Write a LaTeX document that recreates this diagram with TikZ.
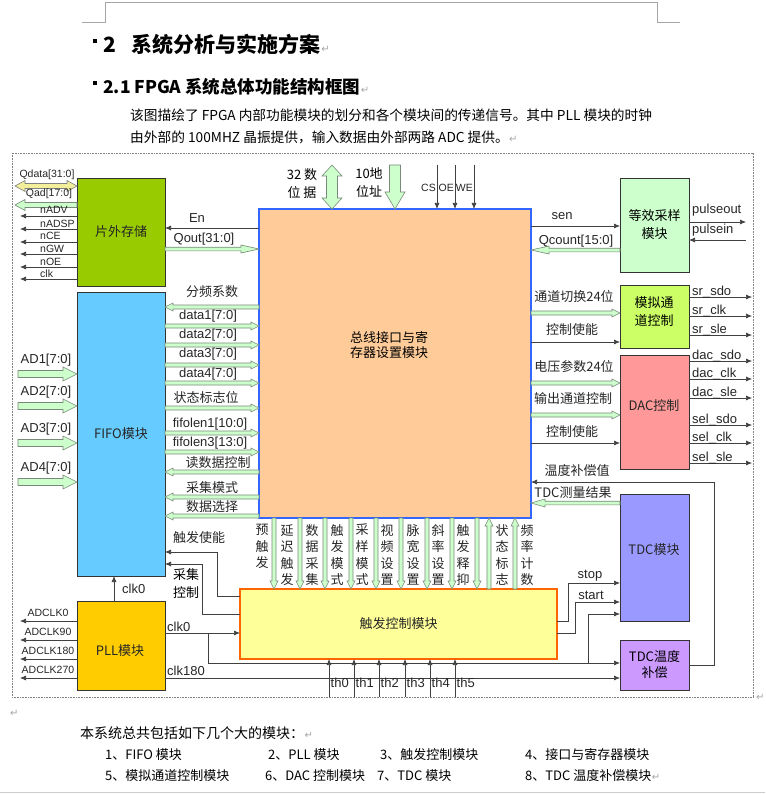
\documentclass[tikz,border=0pt]{standalone}
\usepackage{fontspec}
\setmainfont{Liberation Sans}
\newfontfamily\cjk{Noto Sans CJK SC}
\newfontfamily\symf{DejaVu Sans}
\usetikzlibrary{calc,arrows.meta}
\definecolor{memg}{HTML}{99CC00}
\definecolor{fifob}{HTML}{66CCFF}
\definecolor{busf}{HTML}{FFCC99}
\definecolor{busb}{HTML}{3366FF}
\definecolor{eqg}{HTML}{CCFFCC}
\definecolor{simg}{HTML}{CCFF66}
\definecolor{dacp}{HTML}{FF9999}
\definecolor{tdcb}{HTML}{9999FF}
\definecolor{tdcp}{HTML}{CC99FF}
\definecolor{trigy}{HTML}{FFFF99}
\definecolor{trigo}{HTML}{FF6600}
\definecolor{pllg}{HTML}{FFCC00}
\definecolor{hfill}{HTML}{CCFFCC}
\definecolor{hedge}{HTML}{7A8A7A}
\definecolor{qfill}{HTML}{F2EE9A}
\definecolor{wire}{HTML}{404040}
% hollow single arrow: style, from, to, half shaft, half head, head length
\newcommand\harrow[6]{%
  \draw[#1] let \p1=(#2), \p2=(#3), \n1={atan2(\y2-\y1,\x2-\x1)}, \n2={veclen(\x2-\x1,\y2-\y1)-#6pt} in
    ($(\p1)+({\n1+90}:#4pt)$) -- ($(\p1)+({\n1}:{\n2*1pt})+({\n1+90}:#4pt)$) -- ($(\p1)+({\n1}:{\n2*1pt})+({\n1+90}:#5pt)$) -- (\p2)
    -- ($(\p1)+({\n1}:{\n2*1pt})+({\n1-90}:#5pt)$) -- ($(\p1)+({\n1}:{\n2*1pt})+({\n1-90}:#4pt)$) -- ($(\p1)+({\n1-90}:#4pt)$) -- cycle;}
% hollow double arrow
\newcommand\dharrow[6]{%
  \draw[#1] let \p1=(#2), \p2=(#3), \n1={atan2(\y2-\y1,\x2-\x1)}, \n2={veclen(\x2-\x1,\y2-\y1)-#6pt} in
    (\p1) -- ($(\p1)+({\n1}:#6pt)+({\n1+90}:#5pt)$) -- ($(\p1)+({\n1}:#6pt)+({\n1+90}:#4pt)$)
    -- ($(\p1)+({\n1}:{\n2*1pt})+({\n1+90}:#4pt)$) -- ($(\p1)+({\n1}:{\n2*1pt})+({\n1+90}:#5pt)$) -- (\p2)
    -- ($(\p1)+({\n1}:{\n2*1pt})+({\n1-90}:#5pt)$) -- ($(\p1)+({\n1}:{\n2*1pt})+({\n1-90}:#4pt)$)
    -- ($(\p1)+({\n1}:#6pt)+({\n1-90}:#4pt)$) -- ($(\p1)+({\n1}:#6pt)+({\n1-90}:#5pt)$) -- cycle;}
\begin{document}
\begin{tikzpicture}[x=1pt,y=-1pt,
  blk/.style={draw=black!80, line width=0.7pt, anchor=north west, inner sep=0pt, outer sep=0pt},
  lt/.style={font=\fontsize{13}{15}\selectfont, inner sep=0pt, text=black!85},
  ls/.style={font=\fontsize{10.5}{12}\selectfont, inner sep=0pt, text=black!85},
  ct/.style={font=\cjk\fontsize{13}{15}\selectfont, inner sep=0pt, text=black!85},
  vt/.style={font=\cjk\fontsize{13}{16.6}\selectfont, inner sep=0pt, align=center, anchor=north, text=black!85},
  wirea/.style={draw=wire, line width=0.7pt, -{Latex[length=6pt,width=5pt]}},
  wiren/.style={draw=wire, line width=0.7pt},
  hol/.style={draw=hedge, fill=hfill, line width=0.6pt, line join=miter},
  pmark/.style={font=\symf\fontsize{10}{10}\selectfont, text=gray!70, inner sep=0pt, anchor=base west},
]
\useasboundingbox (0,0) rectangle (765,794);
\fill[white] (0,0) rectangle (765,794);
% ---------- page header ----------
\draw[gray!70, line width=0.6pt] (82,22) -- (105,22) -- (105,2) -- (657,2) -- (657,22) -- (680,22);
\fill (93,39) rectangle (97,43);
\node[anchor=base west, inner sep=0pt, font=\cjk\bfseries\fontsize{21}{23}\selectfont] (h1) at (103,53) {2\hspace{16pt}系统分析与实施方案};
\node[pmark] (h1m) at (h1.base east) {↵};
\fill (93,81) rectangle (97,85);
\node[anchor=base west, inner sep=0pt, font=\cjk\bfseries\fontsize{17.5}{19}\selectfont] (h2) at (103,94) {2.1 FPGA 系统总体功能结构框图};
\node[pmark] (h2m) at (h2.base east) {↵};
\node[anchor=base west, inner sep=0pt, font=\cjk\fontsize{13.7}{15}\selectfont] (p1) at (130,121) {该图描绘了 FPGA 内部功能模块的划分和各个模块间的传递信号。其中 PLL 模块的时钟};
\node[anchor=base west, inner sep=0pt, font=\cjk\fontsize{13.7}{15}\selectfont] (p2) at (130,143) {由外部的 100MHZ 晶振提供，输入数据由外部两路 ADC 提供。};
\node[pmark] (p2m) at (p2.base east) {↵};
% ---------- frame ----------
\draw[gray, line width=0.6pt, dash pattern=on 0.8pt off 0.8pt] (12,153) rectangle (753,697);
% ---------- blocks ----------
\node[blk, fill=memg, minimum width=88pt, minimum height=108pt, ct] (mem) at (77,178) {片外存储};
\node[blk, fill=fifob, minimum width=88pt, minimum height=284pt, ct] (fifo) at (77,292) {FIFO模块};
\node[blk, fill=pllg, minimum width=88pt, minimum height=89pt] (pll) at (77,601) {};
\node[ct] (plll) at (120,651) {PLL模块};
\node[blk, fill=busf, draw=busb, line width=2.5pt, minimum width=272pt, minimum height=309pt] (bus) at (259,209) {};
\node[font=\cjk\fontsize{13}{15.5}\selectfont, align=center, inner sep=0pt] (busl) at (389,345) {总线接口与寄\\存器设置模块};
\node[blk, fill=eqg, minimum width=69pt, minimum height=94pt, font=\cjk\fontsize{13}{18}\selectfont, align=center] (eq) at (620,178) {等效采样\\模块};
\node[blk, fill=simg, minimum width=69pt, minimum height=63pt] (sim) at (620,285) {};
\node[font=\cjk\fontsize{13}{18}\selectfont, align=center, inner sep=0pt] (siml) at (654,312) {模拟通\\道控制};
\node[blk, fill=dacp, minimum width=69pt, minimum height=114pt] (dac) at (620,355) {};
\node[ct] (dacl) at (654,406) {DAC控制};
\node[blk, fill=tdcb, minimum width=69pt, minimum height=127pt] (tdc) at (620,494) {};
\node[ct] (tdcl) at (654,550) {TDC模块};
\node[blk, fill=tdcp, minimum width=69pt, minimum height=50pt, font=\cjk\fontsize{13}{16}\selectfont, align=center] (tdct) at (620,640) {TDC温度\\补偿};
\node[blk, fill=trigy, draw=trigo, line width=2pt, minimum width=317pt, minimum height=70pt, ct] (trig) at (240,589) {触发控制模块};
% ---------- memory connections ----------
\coordinate (qdL) at (15,186);
\coordinate (qaL) at (15,205);
\dharrow{hol, fill=qfill, draw=gray}{mem.west |- 0,186}{qdL}{2.5}{5.5}{10}
\harrow{hol}{mem.west |- 0,205}{qaL}{2.5}{5.5}{10}
\node[ls] (lqd) at (47,175) {Qdata[31:0]};
\node[ls] (lqa) at (49,194) {Qad[17:0]};
\foreach \yy/\t in {216/nADV,229/nADSP,242/nCE,254/nGW,267/nOE,279/clk}{
  \coordinate (m\t) at (20,\yy);
  \draw[wirea] (mem.west |- m\t) -- (m\t);
  \node[ls, anchor=base west] (l\t) at (40,{\yy-2}) {\t};
}
\draw[wirea] (bus.west |- 0,228) -- (mem.east |- 0,228);
\node[lt] (len) at (197,218) {En};
\harrow{hol}{mem.east |- 0,249}{bus.west |- 0,249}{1.8}{4}{18}
\node[lt] (lqo) at (204,239) {Qout[31:0]};
% ---------- top ----------
\coordinate (d32) at (332,165);
\coordinate (a10) at (395,165);
\dharrow{hol}{d32}{bus.north -| d32}{5.5}{10}{11}
\harrow{hol}{a10}{bus.north -| a10}{5.5}{10}{17}
\node[font=\cjk\fontsize{13}{18}\selectfont, align=center, inner sep=0pt] (l32) at (302,184) {32 数\\位 据};
\node[font=\cjk\fontsize{13}{18}\selectfont, align=center, inner sep=0pt] (l10) at (369,183) {10地\\位址};
\foreach \xx/\t in {437/CS,455/OE,474/WE}{
  \coordinate (c\t) at (\xx,165);
  \draw[wirea] (c\t) -- (bus.north -| c\t);
  \node[ls, anchor=east] (l\t) at ({\xx-1},188) {\t};
}
% ---------- equivalent sampling ----------
\draw[wirea] (bus.east |- 0,226) -- (eq.west |- 0,226);
\node[lt] (lsen) at (562,216) {sen};
\harrow{hol}{eq.west |- 0,250}{bus.east |- 0,250}{1.8}{4}{18}
\node[lt] (lqc) at (576,241) {Qcount[15:0]};
\coordinate (po) at (746,222);
\coordinate (pi) at (746,240);
\draw[wirea] (eq.east |- po) -- (po);
\draw[wirea] (pi) -- (eq.east |- pi);
\node[lt, anchor=west] (lpo) at (692,210) {pulseout};
\node[lt, anchor=west] (lpi) at (692,230) {pulsein};
% ---------- FIFO <-> bus ----------
\foreach \yy in {307,472,497,516}{ \coordinate (fl) at (0,\yy); \harrow{hol}{bus.west |- fl}{fifo.east |- fl}{2}{4}{8} }
\foreach \yy in {326,345,365,383,408,433,452}{ \coordinate (fr) at (0,\yy); \harrow{hol}{fifo.east |- fr}{bus.west |- fr}{2}{4}{8} }
\node[ct] (lfp) at (212,292) {分频系数};
\node[lt] (ld1) at (208,316) {data1[7:0]};
\node[lt] (ld2) at (208,335) {data2[7:0]};
\node[lt] (ld3) at (208,354) {data3[7:0]};
\node[lt] (ld4) at (208,374) {data4[7:0]};
\node[ct] (lzt) at (206,398) {状态标志位};
\node[lt] (lf1) at (210,424) {fifolen1[10:0]};
\node[lt] (lf3) at (210,443) {fifolen3[13:0]};
\node[ct] (ldk) at (218,463) {读数据控制};
\node[ct] (lcj) at (212,488) {采集模式};
\node[ct] (lsj) at (212,507) {数据选择};
% ---------- AD inputs ----------
\foreach \i/\yy in {1/374,2/406,3/443,4/482}{
  \coordinate (ad\i) at (18,\yy);
  \harrow{hol}{ad\i}{fifo.west |- ad\i}{3.5}{7}{14}
  \node[lt] (lad\i) at (46,{\yy-14}) {AD\i[7:0]};
}
% ---------- analog channel / DAC ----------
\harrow{hol}{bus.east |- 0,313}{sim.west |- 0,313}{2}{4}{8}
\node[ct] (ltd) at (574,297) {通道切换24位};
\draw[wirea] (bus.east |- 0,342) -- (sim.west |- 0,342);
\node[ct] (lkz1) at (572,330) {控制使能};
\harrow{hol}{bus.east |- 0,383}{dac.west |- 0,383}{2}{4}{8}
\node[ct] (ldy) at (574,367) {电压参数24位};
\harrow{hol}{bus.east |- 0,415}{dac.west |- 0,415}{2}{4}{8}
\node[ct] (lsc) at (573,399) {输出通道控制};
\draw[wirea] (bus.east |- 0,443) -- (dac.west |- 0,443);
\node[ct] (lkz2) at (572,432) {控制使能};
\foreach \yy/\t/\n in {297/sr\_sdo/s1,316/sr\_clk/s2,335/sr\_sle/s3}{
  \coordinate (o\n) at (752,\yy);
  \draw[wirea] (sim.east |- o\n) -- (o\n);
  \node[lt, anchor=base west] (l\n) at (692,{\yy-1.5}) {\t};
}
\foreach \yy/\t/\n in {361/dac\_sdo/d1,379/dac\_clk/d2,398/dac\_sle/d3,425/sel\_sdo/d4,443/sel\_clk/d5,463/sel\_sle/d6}{
  \coordinate (o\n) at (752,\yy);
  \draw[wirea] (dac.east |- o\n) -- (o\n);
  \node[lt, anchor=base west] (l\n) at (692,{\yy-1.5}) {\t};
}
% ---------- TDC ----------
\draw[wirea] (tdct.east) -- (tdct.east -| 714,0) -- (714,482) -- (bus.east |- 0,482);
\node[ct] (lwd) at (577,471) {温度补偿值};
\harrow{hol}{tdc.west |- 0,503}{bus.east |- 0,503}{1.8}{4}{14}
\node[ct] (ltdc) at (573,493) {TDC测量结果};
\draw[wirea] (trig.east |- 0,621) -- (568,621) -- (568,583) -- (tdc.west |- 0,583);
\node[lt] (lstop) at (590,576) {stop};
\draw[wirea] (trig.east |- 0,633) -- (575,633) -- (575,602) -- (tdc.west |- 0,602);
\node[lt] (lstart) at (591,595) {start};
% ---------- bus <-> trigger ----------
\foreach \xx in {274,300,325,351,376,401,427,452,477}{ \coordinate (vx) at (\xx,0); \harrow{hol}{bus.south -| vx}{trig.north -| vx}{2}{4}{8} }
\foreach \xx in {489,515}{ \coordinate (vx) at (\xx,0); \harrow{hol}{trig.north -| vx}{bus.south -| vx}{2}{4}{8} }
\node[vt] (v1) at (262,524) {预\\触\\发};
\node[vt] (v2) at (287,524) {延\\迟\\触\\发};
\node[vt] (v3) at (312,524) {数\\据\\采\\集};
\node[vt] (v4) at (337,524) {触\\发\\模\\式};
\node[vt] (v5) at (362,524) {采\\样\\模\\式};
\node[vt] (v6) at (387,524) {视\\频\\设\\置};
\node[vt] (v7) at (413,524) {脉\\宽\\设\\置};
\node[vt] (v8) at (438,524) {斜\\率\\设\\置};
\node[vt] (v9) at (463,524) {触\\发\\释\\抑};
\node[vt] (v10) at (502,524) {状\\态\\标\\志};
\node[vt] (v11) at (527,524) {频\\率\\计\\数};
% ---------- trigger -> FIFO ----------
\draw[wirea] (trig.west |- 0,596) -- (217,596) -- (217,552) -- (fifo.east |- 0,552);
\node[ct] (lcfs) at (199,538) {触发使能};
\draw[wirea] (trig.west |- 0,614) -- (202,614) -- (202,564) -- (fifo.east |- 0,564);
\node[font=\cjk\fontsize{13}{18}\selectfont, align=center, inner sep=0pt] (lcjk) at (186,584) {采集\\控制};
% ---------- PLL ----------
\draw[wirea] (pll.north -| 114,0) -- (fifo.south -| 114,0);
\node[lt, anchor=west] (lck0a) at (122,589) {clk0};
\draw[wirea] (pll.east |- 0,633) -- (trig.west |- 0,633);
\node[lt, anchor=west] (lck0b) at (167,627) {clk0};
\draw[wiren] (208,633) -- (208,663);
\draw[wirea] (208,663) -- (tdct.west |- 0,663);
\draw[wirea] (588,663) -- (588,614) -- (tdc.west |- 0,614);
\draw[wirea] (pll.east |- 0,678) -- (tdct.west |- 0,678);
\node[lt, anchor=west] (lck180) at (167,671) {clk180};
\foreach \yy/\t in {621/ADCLK0,640/ADCLK90,659/ADCLK180,678/ADCLK270}{
  \coordinate (k\t) at (20,\yy);
  \draw[wirea] (pll.west |- k\t) -- (k\t);
  \node[ls] (l\t) at (48,{\yy-8}) {\t};
}
% ---------- th inputs ----------
\foreach \i/\xx in {0/329,1/354,2/379,3/405,4/430,5/455}{
  \coordinate (th\i) at (\xx,697);
  \draw[wirea] (th\i) -- (trig.south -| th\i);
  \node[lt, anchor=west] (lth\i) at ({\xx+1.5},683) {th\i};
}
% ---------- footer ----------
\node[pmark] (fm0) at (756,700) {↵};
\node[pmark] (fm1) at (10,716) {↵};
\node[anchor=base west, inner sep=0pt, font=\cjk\fontsize{14}{15}\selectfont] (f0) at (80,738) {本系统总共包括如下几个大的模块：};
\node[pmark] (f0m) at (f0.base east) {↵};
\begin{scope}[every node/.style={anchor=base west, inner sep=0pt, font=\cjk\fontsize{13}{15}\selectfont}]
\node (f1) at (105,759) {1、FIFO 模块};
\node (f2) at (268,759) {2、PLL 模块};
\node (f3) at (380,759) {3、触发控制模块};
\node (f4) at (525,759) {4、接口与寄存器模块};
\node (f5) at (105,780) {5、模拟通道控制模块};
\node (f6) at (265,780) {6、DAC 控制模块};
\node (f7) at (377,780) {7、TDC 模块};
\node (f8) at (525,780) {8、TDC 温度补偿模块};
\end{scope}
\node[pmark] (f8m) at (f8.base east) {↵};
\draw[gray!40, line width=0.8pt] (0,792) -- (765,792);
\end{tikzpicture}
\end{document}
